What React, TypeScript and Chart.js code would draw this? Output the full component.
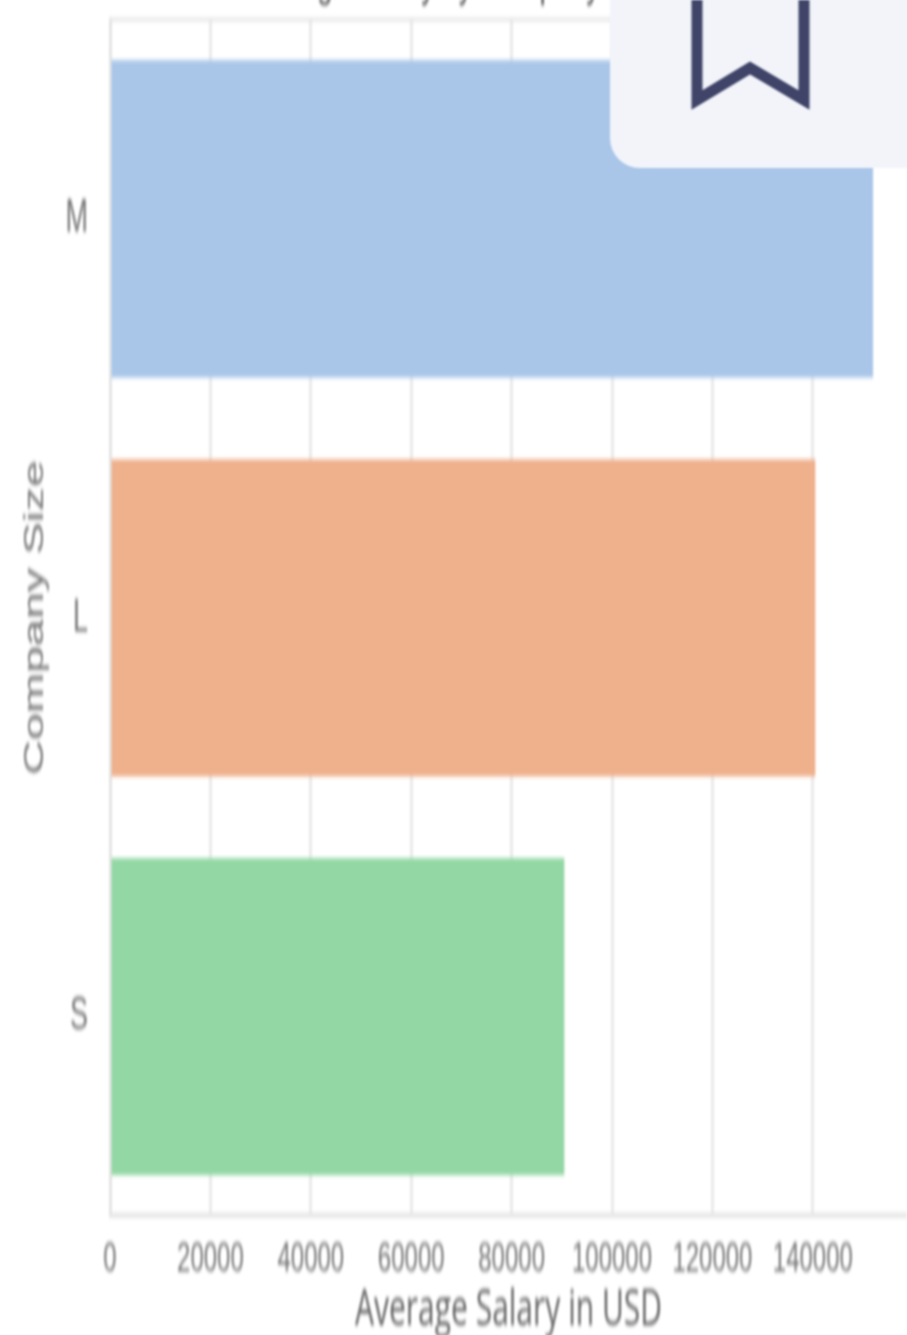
import React, { useEffect, useRef } from "react";
import { Chart, registerables } from "chart.js";

Chart.register(...registerables);

const companySizes = ["M", "L", "S"];
const averageSalary = [152000, 140500, 90500];
const barColors = ["#A9C6E9", "#EFB08C", "#93D7A4"];
const salaryTicks = [0, 20000, 40000, 60000, 80000, 100000, 120000, 140000];
const chartTitle = "Average Salary by Company Size";
const xAxisLabel = "Average Salary in USD";
const yAxisLabel = "Company Size";

const STRETCH = 1.73;
const TOP_CUT = 40;
const CANVAS_HEIGHT = Math.round(1335 / STRETCH) + TOP_CUT + 11;

const topBorder = {
  id: "topBorder",
  beforeDatasetsDraw(chart: any) {
    const { ctx, chartArea } = chart;
    ctx.save();
    ctx.strokeStyle = "#E4E4E4";
    ctx.lineWidth = 2;
    ctx.beginPath();
    ctx.moveTo(chartArea.left, chartArea.top);
    ctx.lineTo(chartArea.right, chartArea.top);
    ctx.stroke();
    ctx.restore();
  },
};

export default function App() {
  const ref = useRef<HTMLCanvasElement>(null);

  useEffect(() => {
    document.body.style.margin = "0";
    document.body.style.overflow = "hidden";
    const chart = new Chart(ref.current!, {
      type: "bar",
      plugins: [topBorder],
      data: {
        labels: companySizes,
        datasets: [
          {
            data: averageSalary,
            backgroundColor: barColors,
            barPercentage: 0.795,
            categoryPercentage: 1,
          },
        ],
      },
      options: {
        indexAxis: "y",
        animation: false,
        responsive: false,
        devicePixelRatio: 1,
        layout: { padding: { left: 0, right: 0, top: 0, bottom: 0 } },
        plugins: {
          legend: { display: false },
          tooltip: { enabled: false },
          title: {
            display: true,
            text: chartTitle,
            color: "#555",
            font: { family: "Liberation Sans", size: 28, weight: "normal" },
            padding: { top: 12, bottom: 5.6 },
          },
        },
        scales: {
          x: {
            min: 0,
            max: 158760,
            afterBuildTicks: (s: any) => {
              s.ticks = salaryTicks.map((value) => ({ value }));
            },
            ticks: {
              autoSkip: false,
              maxRotation: 0,
              color: "#777",
              padding: 11.3,
              font: { family: "Liberation Sans", size: 24 },
              callback: (v: any) => String(v),
            },
            grid: { color: "#EAEAEA", lineWidth: 3, drawTicks: false },
            border: { color: "#E6E6E6", width: 3 },
            title: {
              display: true,
              text: xAxisLabel,
              color: "#666",
              padding: { top: -15.3, bottom: 8 },
              font: { family: "Open Sans", size: 30 },
            },
          },
          y: {
            afterFit: (s: any) => {
              s.width = 110;
            },
            grid: { display: false, drawTicks: false },
            border: { color: "#E4E4E4", width: 3 },
            ticks: {
              color: "#777",
              padding: 22,
              font: { family: "Liberation Sans", size: 27 },
            },
            title: {
              display: true,
              text: yAxisLabel,
              color: "#777",
              padding: { top: 18, bottom: 0 },
              font: { family: "Liberation Sans", size: 28 },
            },
          },
        },
      },
    });
    return () => chart.destroy();
  }, []);

  return (
    <div style={{ position: "relative", width: 907, height: 1335, overflow: "hidden", background: "#fff" }}>
      <div
        style={{
          position: "absolute",
          left: 0,
          top: 0,
          width: 907,
          height: CANVAS_HEIGHT,
          transformOrigin: "0 0",
          transform: `scaleY(${STRETCH}) translateY(${-TOP_CUT}px)`,
          filter: "blur(1.2px)",
        }}
      >
        <canvas ref={ref} width={907} height={CANVAS_HEIGHT} />
      </div>
      <div
        style={{
          position: "absolute",
          left: 610,
          top: -20,
          width: 320,
          height: 188,
          background: "#F2F4FA",
          borderBottomLeftRadius: 30,
          filter: "blur(1.2px)",
        }}
      />
      <svg
        width={140}
        height={120}
        style={{ position: "absolute", left: 682, top: 0, filter: "blur(1px)" }}
      >
        <path d="M15 -20 L15 100 L68 68 L122 100 L122 -20" fill="none" stroke="#3F4468" strokeWidth={11} />
      </svg>
    </div>
  );
}
